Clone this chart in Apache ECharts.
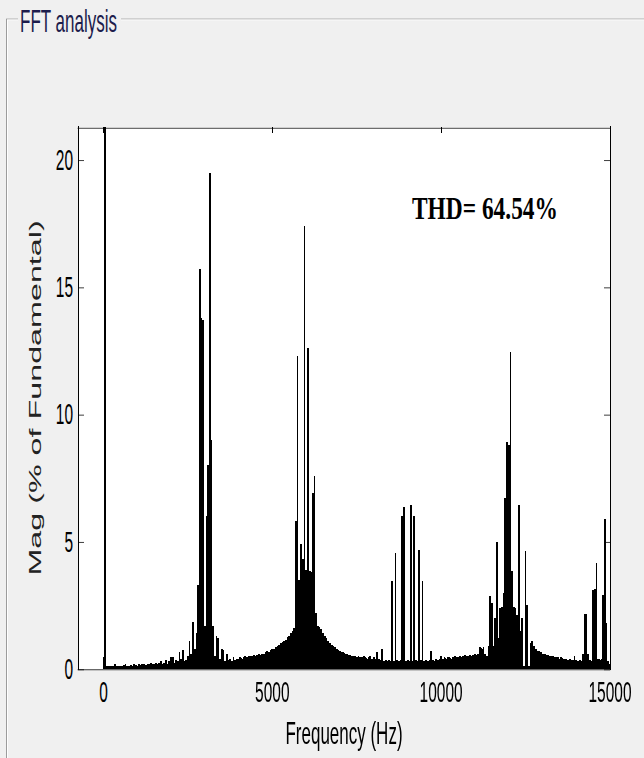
<!DOCTYPE html>
<html>
<head>
<meta charset="utf-8">
<script src="https://cdn.jsdelivr.net/npm/echarts@6/dist/echarts.min.js"></script>
<style>
html,body{margin:0;padding:0;background:#f0f0f0;overflow:hidden;width:644px;height:758px;}
#chart{width:644px;transform-origin:0 0;}
#chart svg path{shape-rendering:crispEdges;}
</style>
</head>
<body>
<div id="chart"></div>
<script>
// ---- data ----
const titleText = 'FFT analysis';
const thdText = 'THD= 64.54%';
const xName = 'Frequency (Hz)';
const yName = 'Mag (% of Fundamental)';
const xTicks = [0, 5000, 10000, 15000];
const yTicks = [0, 5, 10, 15, 20];
const fundamentalHz = 50;
// magnitude (% of fundamental) for harmonic order 0..300 (DC, 50 Hz, 100 Hz, ... 15000 Hz)
const harmonicMag = [
  0.45, 100, 0.1, 0.12, 0.1, 0.1, 0.12, 0.2, 0.1, 0.12,
  0.1, 0.12, 0.15, 0.2, 0.12, 0.1, 0.15, 0.12, 0.18, 0.15,
  0.12, 0.18, 0.15, 0.2, 0.18, 0.15, 0.2, 0.18, 0.22, 0.2,
  0.2, 0.25, 0.2, 0.22, 0.3, 0.2, 0.25, 0.35, 0.2, 0.3,
  0.48, 0.45, 0.25, 0.35, 0.3, 0.65, 0.4, 0.75, 0.3, 0.35,
  0.5, 1.1, 0.6, 1.85, 0.8, 1.4, 3.3, 15.7, 13.8, 13.7,
  1.7, 6.0, 8.0, 19.5, 9.0, 1.7, 0.5, 1.3, 1.2, 0.4,
  0.8, 0.75, 0.3, 0.6, 0.35, 0.4, 0.3, 0.45, 0.35, 0.4,
  0.4, 0.45, 0.4, 0.45, 0.5, 0.45, 0.5, 0.5, 0.5, 0.55,
  0.5, 0.55, 0.6, 0.55, 0.6, 0.6, 0.65, 0.7, 0.65, 0.75,
  0.8, 0.8, 0.85, 0.9, 0.95, 1.0, 1.05, 1.1, 1.15, 1.25,
  1.3, 1.4, 1.5, 1.6, 5.8, 12.3, 3.5, 4.9, 4.3, 17.4,
  3.9, 12.6, 3.85, 3.8, 6.9, 7.6, 2.2, 1.7, 1.65, 1.55,
  1.4, 1.3, 1.2, 1.1, 1.0, 0.95, 0.9, 0.85, 0.8, 0.75,
  0.7, 0.68, 0.65, 0.6, 0.6, 0.55, 0.55, 0.5, 0.5, 0.5,
  0.45, 0.5, 0.45, 0.45, 0.5, 0.45, 0.4, 0.45, 0.5, 0.4,
  0.45, 0.4, 0.65, 0.4, 0.35, 0.78, 0.3, 0.35, 0.3, 0.35,
  0.3, 3.47, 0.3, 4.57, 0.35, 0.3, 0.35, 6.02, 6.36, 0.3,
  0.35, 0.3, 6.45, 0.3, 6.02, 0.35, 0.3, 4.66, 0.35, 3.47,
  0.3, 0.35, 0.3, 0.35, 0.7, 0.35, 0.3, 0.4, 0.35, 0.4,
  0.5, 0.4, 0.45, 0.4, 0.45, 0.45, 0.4, 0.45, 0.5, 0.45,
  0.45, 0.5, 0.45, 0.5, 0.55, 0.5, 0.5, 0.55, 0.5, 0.55,
  0.6, 0.55, 0.6, 0.85, 0.8, 0.85, 0.6, 0.5, 0.9, 2.85,
  2.6, 0.9, 2.0, 5.0, 1.2, 2.4, 2.45, 3.0, 6.7, 8.9,
  8.8, 12.45, 3.85, 2.45, 2.4, 2.1, 6.45, 1.5, 2.0, 0.1,
  4.63, 2.5, 0.1, 1.0, 1.1, 0.9, 0.8, 0.7, 0.7, 0.65,
  0.6, 0.6, 0.55, 0.55, 0.5, 0.5, 0.5, 0.45, 0.45, 0.45,
  0.4, 0.45, 0.4, 0.4, 0.4, 0.35, 0.4, 0.35, 0.35, 0.5,
  0.35, 0.3, 0.35, 0.3, 0.6, 2.17, 2.17, 0.6, 0.35, 0.3,
  3.1, 3.15, 4.15, 0.4, 0.35, 0.4, 2.9, 5.9, 1.8, 0.3,
  0.2
];

// ---- layout (the screenshot is vertically stretched; we render compressed and stretch back) ----
const S = 1.9;
const W = 644, H = 758 / S;
const Y = v => v / S;           // page y -> internal y
const HL = 1 / S;                // 1px horizontal line after stretch
const font = 'Liberation Sans, Arial, sans-serif';

const el = document.getElementById('chart');
el.style.height = H + 'px';
el.style.transform = 'scaleY(' + S + ')';

const chart = echarts.init(el, null, { renderer: 'svg', width: W, height: H });

const barData = harmonicMag.map((v, h) => [h * fundamentalHz, v]);

const xBase = {
  type: 'value', min: -755, max: 15000,
  splitLine: { show: false },
  axisLine: { onZero: false, lineStyle: { color: '#000', width: HL } },
  axisTick: { inside: true, length: 6 / S, customValues: xTicks, lineStyle: { color: '#000', width: 1 } }
};
const yBase = {
  type: 'value', min: 0, max: 21.3,
  splitLine: { show: false },
  axisLine: { onZero: false, lineStyle: { color: '#000', width: 1 } },
  axisTick: { inside: true, length: 6, customValues: yTicks, lineStyle: { color: '#000', width: HL } }
};

const option = {
  animation: false,
  backgroundColor: '#f0f0f0',
  title: {
    text: titleText, left: 20, top: Y(21) - 8.5, padding: 0,
    textStyle: { fontFamily: font, fontSize: 17, fontWeight: 'normal', color: '#1c1c4c' }
  },
  grid: { left: 78, right: 34, top: Y(127), bottom: Y(82), show: true, backgroundColor: '#ffffff', borderWidth: 0, containLabel: false },
  xAxis: [
    Object.assign({}, xBase, {
      position: 'bottom',
      axisLabel: { customValues: xTicks, margin: 4, fontFamily: font, fontSize: 15.5, color: '#000', formatter: v => String(v) },
      name: xName, nameLocation: 'middle', nameGap: 23.5,
      nameTextStyle: { fontFamily: font, fontSize: 17, color: '#000' }
    }),
    Object.assign({}, xBase, { position: 'top', axisLabel: { show: false } })
  ],
  yAxis: [
    Object.assign({}, yBase, {
      position: 'left',
      axisLabel: { customValues: yTicks, margin: 5, fontFamily: font, fontSize: 15.5, color: '#000', formatter: v => String(v) },
      name: yName, nameLocation: 'middle', nameGap: 34,
      nameTextStyle: { fontFamily: font, fontSize: 17, color: '#222' }
    }),
    Object.assign({}, yBase, { position: 'right', axisLabel: { show: false } })
  ],
  graphic: [
    { type: 'line', silent: true, shape: { x1: 6, y1: Y(19), x2: 18, y2: Y(19) }, style: { stroke: '#9c9c9c', lineWidth: HL } },
    { type: 'line', silent: true, shape: { x1: 7, y1: Y(20), x2: 18, y2: Y(20) }, style: { stroke: '#ffffff', lineWidth: HL } },
    { type: 'line', silent: true, shape: { x1: 121, y1: Y(19), x2: 644, y2: Y(19) }, style: { stroke: '#9c9c9c', lineWidth: HL } },
    { type: 'line', silent: true, shape: { x1: 121, y1: Y(20), x2: 644, y2: Y(20) }, style: { stroke: '#ffffff', lineWidth: HL } },
    { type: 'line', silent: true, shape: { x1: 6.5, y1: Y(19), x2: 6.5, y2: H }, style: { stroke: '#9c9c9c', lineWidth: 1 } },
    { type: 'line', silent: true, shape: { x1: 7.5, y1: Y(20), x2: 7.5, y2: H }, style: { stroke: '#ffffff', lineWidth: 1 } },
    {
      type: 'text', silent: true, x: 412, y: Y(208.5), scaleY: 0.713, z: 10,
      style: { text: thdText, fontFamily: 'Liberation Serif, Times New Roman, serif', fontWeight: 'bold', fontSize: 23.4, fill: '#000', align: 'left', verticalAlign: 'middle' }
    }
  ],
  series: [
    {
      // solid envelope of the bars (each bin filled across its full width, as in the original bar plot)
      type: 'line', xAxisIndex: 0, yAxisIndex: 0,
      data: barData, step: 'middle', showSymbol: false, clip: true, silent: true,
      lineStyle: { width: 0, color: '#000' },
      areaStyle: { color: '#000', opacity: 1, origin: 'start' },
      z: 1
    },
    {
      type: 'bar', xAxisIndex: 0, yAxisIndex: 0,
      data: barData, barWidth: '100%', barCategoryGap: '0%', clip: true, silent: true,
      itemStyle: { color: '#000' }, z: 2
    }
  ]
};
chart.setOption(option);
</script>
</body>
</html>
